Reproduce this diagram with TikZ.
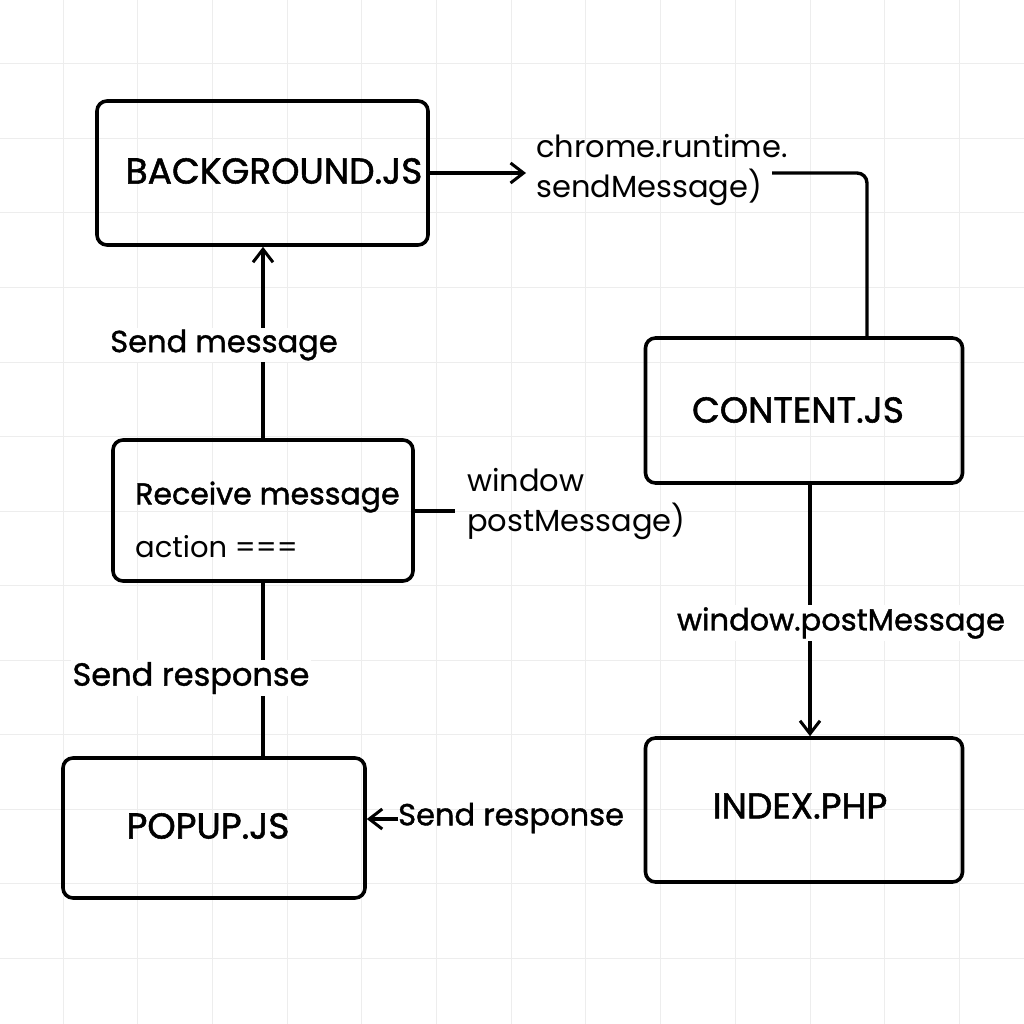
\documentclass[tikz,border=0pt]{standalone}
\usepackage{fontspec}
\setmainfont{Poppins}
\newfontfamily\medfont[FakeBold=1.2]{Poppins}
\newfontfamily\ttlfont[FakeBold=1.5]{Poppins}
\usetikzlibrary{arrows.meta}
\begin{document}
\begin{tikzpicture}[x=1pt,y=-1pt,
  box/.style={draw, line width=3.6pt, rounded corners=10pt, inner sep=0pt},
  conn/.style={line width=3.4pt},
  arr/.style={conn, -{Straight Barb[length=13pt,width=20pt,line width=3pt]}},
  ttl/.style={inner sep=0pt, font=\ttlfont\fontsize{36}{40}\selectfont},
  lbl/.style={inner sep=2pt, font=\medfont\fontsize{30.5}{36}\selectfont},
  lbw/.style={lbl, fill=white},
  thin/.style={inner sep=0pt, align=left, font=\fontsize{30.5}{40}\selectfont},
  gridln/.style={draw=black!7, line width=1pt}
]
\useasboundingbox (0,0) rectangle (1024,1024);
\fill[white] (0,0) rectangle (1024,1024);
\foreach \i in {0,...,12} {
  \draw[gridln] (63+74.7*\i,0) -- (63+74.7*\i,1024);
  \draw[gridln] (0,64+74.5*\i) -- (1024,64+74.5*\i);
}
% boxes
\node[box, minimum width=331pt, minimum height=144pt] (bg) at (262.5,173) {};
\node[box, minimum width=317pt, minimum height=145pt] (content) at (804,410.5) {};
\node[box, minimum width=317pt, minimum height=144pt] (index) at (804,810) {};
\node[box, minimum width=302pt, minimum height=140pt] (popup) at (214,828) {};
\node[box, minimum width=300pt, minimum height=141pt] (recv) at (263,510.5) {};
% box texts
\node[ttl] (bgt) at (274,171) {BACKGROUND.JS};
\node[ttl] (ct) at (798,410) {CONTENT.JS};
\node[ttl] (it) at (800,806) {INDEX.PHP};
\node[ttl] (pt) at (208,826) {POPUP.JS};
\node[inner sep=0pt, anchor=west, font=\ttlfont\fontsize{30}{34}\selectfont] (rt1) at (135,497) {Receive message};
\node[inner sep=0pt, anchor=west, font=\fontsize{29}{32}\selectfont] (rt2) at (135,547) {action ===};
% labels
\node[thin, anchor=west] (chrome) at (536,170) {chrome.runtime.\\sendMessage)};
\node[thin, anchor=west] (wpm) at (467,504) {window\\postMessage)};
\coordinate (c1) at (772,173);
\coordinate (ctop) at (867,339);
\coordinate (r1) at (455,511);
% connectors
\draw[arr, shorten >=10pt] (bg.east |- 0,173) -- (chrome.west |- 0,173);
\draw[conn, rounded corners=10pt] (c1) -| (ctop);
\draw[arr] ([xshift=6pt]content.south) -- ([xshift=6pt]index.north);
\node[lbw] (wpl) at (841,623) {window.postMessage};
\node[lbl, anchor=west, inner sep=0pt] (sr2) at (398,818) {Send response};
\draw[arr] (sr2.west |- 0,819) -- (popup.east |- 0,819);
\draw[arr] (recv.north) -- (recv.north |- bg.south);
\node[lbw] (sm) at (224,345) {Send message};
\draw[conn] (recv.south) -- (recv.south |- popup.north);
\node[lbw, font=\medfont\fontsize{32}{36}\selectfont] (sr1) at (191,678) {Send response};
\draw[conn] (recv.east |- r1) -- (r1);
\end{tikzpicture}
\end{document}
